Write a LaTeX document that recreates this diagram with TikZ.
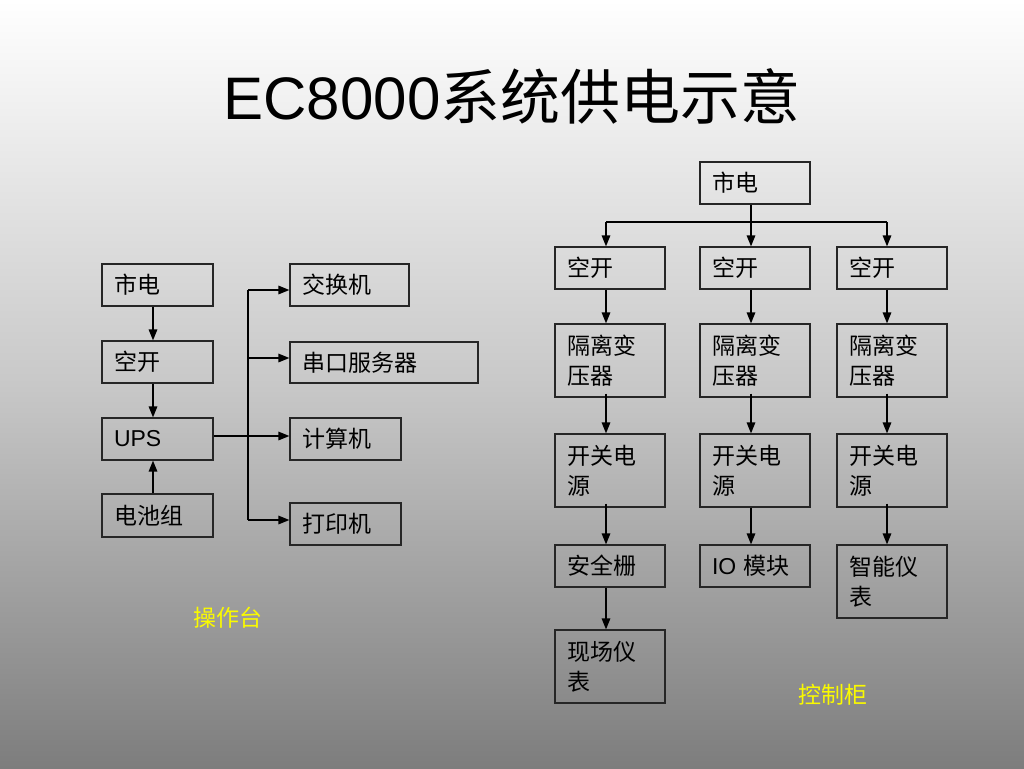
\documentclass[tikz,border=0pt]{standalone}
\usepackage{fontspec}
\setmainfont{Liberation Sans}
\newfontfamily\cjk{Noto Sans CJK SC}
\usetikzlibrary{arrows.meta}
\definecolor{lbl}{RGB}{250,250,0}
\tikzset{
  box/.style={draw=black!85, line width=1.2pt, inner xsep=12pt, inner ysep=0pt,
    align=left, font=\fontsize{23}{30}\selectfont, text=black},
  h42/.style={minimum height=42pt},
  h73/.style={minimum height=73pt},
  arr/.style={line width=1.5pt, -{Triangle[length=11pt,width=8.5pt]}},
  ln/.style={line width=1.5pt},
  lab/.style={font=\fontsize{23}{28}\selectfont\cjk, text=lbl},
}
\begin{document}
\begin{tikzpicture}[x=1pt,y=-1pt]
\shade[top color=white, bottom color={rgb,255:red,125;green,125;blue,125}, middle color={rgb,255:red,200;green,200;blue,200}] (0,0) rectangle (1024,768);
\useasboundingbox (0,0) rectangle (1024,768);
\node[anchor=base, font=\fontsize{60}{70}\selectfont] (title) at (512,119) {EC8000{\cjk 系统供电示意}};
% left
\node[box,h42,text width=87pt] (lsd) at (157.5,285) {\cjk 市电};
\node[box,h42,text width=87pt] (lkk) at (157.5,362) {\cjk 空开};
\node[box,h42,text width=87pt] (ups) at (157.5,439) {UPS};
\node[box,minimum height=43pt,text width=87pt] (bat) at (157.5,515.5) {\cjk 电池组};
\node[box,h42,text width=95pt] (jhj) at (349.5,285) {\cjk 交换机};
\node[box,minimum height=41pt,text width=164pt] (ck) at (384,362.5) {\cjk 串口服务器};
\node[box,h42,text width=87pt] (jsj) at (345.5,439) {\cjk 计算机};
\node[box,h42,text width=87pt] (dyj) at (345.5,524) {\cjk 打印机};
\coordinate (bt) at (248,290);
\coordinate (bb) at (248,520);
\draw[arr] (lsd.south -| 153,0) -- (lkk.north -| 153,0);
\draw[arr] (lkk.south -| 153,0) -- (ups.north -| 153,0);
\draw[arr] (bat.north -| 153,0) -- (ups.south -| 153,0);
\draw[arr] (ups.east |- 0,436) -- (jsj.west |- 0,436);
\draw[ln] (bt) -- (bb);
\draw[arr] (bt) -- (jhj.west |- bt);
\draw[arr] (248,358) -- (ck.west |- 0,358);
\draw[arr] (bb) -- (dyj.west |- bb);
\node[lab] (czt) at (228,618) {操作台};
% right
\node[box,h42,text width=86pt] (rsd) at (755,183) {\cjk 市电};
\foreach \c/\x in {1/610,2/755,3/892}{
  \node[box,h42,text width=86pt] (k\c) at (\x,268) {\cjk 空开};
  \node[box,h73,text width=86pt] (g\c) at (\x,360.5) {\cjk 隔离变\\\cjk 压器};
  \node[box,h73,text width=86pt] (s\c) at (\x,470.5) {\cjk 开关电\\\cjk 源};
}
\node[box,h42,text width=86pt] (aqz) at (610,566) {\cjk 安全栅};
\node[box,h42,text width=86pt] (io) at (755,566) {IO {\cjk 模块}};
\node[box,h73,text width=86pt] (zn) at (892,581.5) {\cjk 智能仪\\\cjk 表};
\node[box,h73,text width=86pt] (xc) at (610,666.5) {\cjk 现场仪\\\cjk 表};
\coordinate (tb1) at (606,222);
\coordinate (tb2) at (751,222);
\coordinate (tb3) at (887,222);
\draw[ln] (rsd.south -| tb2) -- (tb2);
\draw[ln] (tb1) -- (tb3);
\draw[arr] (tb1) -- (k1.north -| tb1);
\draw[arr] (tb2) -- (k2.north -| tb2);
\draw[arr] (tb3) -- (k3.north -| tb3);
\foreach \c/\x in {1/606,2/751,3/887}{
  \draw[arr] (k\c.south -| \x,0) -- (g\c.north -| \x,0);
  \draw[arr] ([yshift=4pt]g\c.south -| \x,0) -- (s\c.north -| \x,0);
}
\draw[arr] ([yshift=4pt]s1.south -| 606,0) -- (aqz.north -| 606,0);
\draw[arr] (s2.south -| 751,0) -- (io.north -| 751,0);
\draw[arr] ([yshift=4pt]s3.south -| 887,0) -- (zn.north -| 887,0);
\draw[arr] (aqz.south -| 606,0) -- (xc.north -| 606,0);
\node[lab] (kzg) at (833,695) {控制柜};
\end{tikzpicture}
\end{document}
